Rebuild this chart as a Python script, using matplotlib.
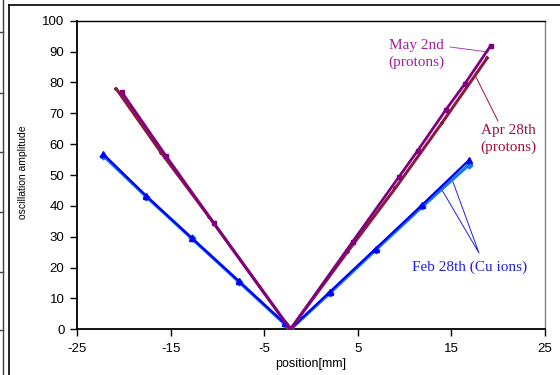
import matplotlib
matplotlib.use("Agg")
import matplotlib.pyplot as plt
from matplotlib.lines import Line2D

# Data
apr_x = [-20.8, -16.0, -10.9, -2.2, 3.9, 9.0, 14.0, 18.8]
apr_y = [77.9, 57.2, 36.5, 0.0, 25.1, 45.7, 66.9, 87.8]

may_x = [-20.2, -15.5, -10.4, -2.2, 4.45, 9.4, 11.4, 14.4, 16.4, 19.2]
may_y = [76.8, 56.2, 34.5, 0.0, 28.4, 49.4, 57.9, 71.1, 79.4, 91.9]

feb_x = [-22.2, -17.6, -12.75, -7.7, -2.8, -2.2, 2.0, 6.9, 11.9, 16.9]
feb_a_y = [56.8, 43.2, 29.6, 15.6, 1.9, 0.0, 12.1, 26.1, 40.4, 54.9]
feb_b_y = [56.3, 43.0, 29.5, 15.4, 1.7, 0.0, 11.7, 25.7, 39.8, 53.4]

xticks = [-25, -15, -5, 5, 15, 25]
yticks = [0, 10, 20, 30, 40, 50, 60, 70, 80, 90, 100]

c_may = "#800080"
c_apr = "#8B1A3C"
c_feb_a = "#0000FF"
c_feb_b = "#1E78E6"

plt.rcParams['font.family'] = ['Liberation Sans', 'DejaVu Sans']
plt.rcParams['axes.unicode_minus'] = False

fig = plt.figure(figsize=(5.6, 3.75), dpi=100)
ax = fig.add_axes([77/560, 1 - 329.3/375, (545-77)/560, (329.3-20.7)/375])

ax.plot(feb_x, feb_b_y, color=c_feb_b, lw=2.4, marker='D', ms=3.5, zorder=3)
ax.plot(feb_x, feb_a_y, color=c_feb_a, lw=1.6, marker='^', ms=4, zorder=4)
ax.plot(apr_x, apr_y, color=c_apr, lw=2.2, marker='+', ms=3.5, mew=1.3, zorder=5)
ax.plot(may_x, may_y, color=c_may, lw=2.0, marker='s', ms=3.5, zorder=6)

ax.set_xlim(-25, 25)
ax.set_ylim(0, 100)
ax.set_xticks(xticks)
ax.set_yticks(yticks)
ax.tick_params(axis='both', direction='out', length=5, width=1, labelsize=9.5, colors='black')
ax.tick_params(axis='x', pad=5)
ax.tick_params(axis='y', pad=4)
for s in ['left', 'bottom']:
    ax.spines[s].set_linewidth(1.3)
ax.spines['top'].set_linewidth(1.0)
ax.spines['right'].set_color('#808080')
ax.spines['right'].set_linewidth(1.0)

ax.set_xlabel("position[mm]", fontsize=9, labelpad=2)
fig.text(23/560, 1 - 172/375, "oscillation amplitude", rotation=90, fontsize=7.5,
         ha='center', va='center')

serif = ['Liberation Serif', 'DejaVu Serif']

def dx(px):
    return -25 + (px - 77) / 9.36

def dy(py):
    return (329.3 - py) / 3.086

ax.text(dx(416), dy(54), "May 2nd\n(protons)", color="#A020A0", fontsize=11, family=serif,
        ha='center', va='center', linespacing=1.35)
ax.plot([dx(450), dx(488)], [dy(47), dy(52)], color="#B040B0", lw=0.7)

ax.text(dx(508), dy(139), "Apr 28th\n(protons)", color="#A0103A", fontsize=11, family=serif,
        ha='center', va='center', linespacing=1.35)
ax.plot([dx(498), dx(476)], [dy(121), dy(77)], color="#A0103A", lw=0.7)

ax.text(dx(470), dy(267), "Feb 28th (Cu ions)", color="#2020E0", fontsize=11, family=serif,
        ha='center', va='center')
ax.plot([dx(442), dx(479), dx(453)], [dy(190), dy(253), dy(182)], color="#2020E0", lw=0.7)

# outer frame lines (from surrounding page)
fig.add_artist(Line2D([9/560, 9/560], [0, 1 - 4.5/375], transform=fig.transFigure, color='black', lw=1.2))
fig.add_artist(Line2D([9/560, 1], [1 - 4.5/375, 1 - 4.5/375], transform=fig.transFigure, color='black', lw=1.2))
fig.add_artist(Line2D([2.7/560, 2.7/560], [0, 1], transform=fig.transFigure, color='#404040', lw=1.0))
for ty in [32, 93, 152, 212, 272, 330]:
    fig.add_artist(Line2D([0, 2.7/560], [1 - ty/375, 1 - ty/375], transform=fig.transFigure, color='#404040', lw=1.0))

fig.savefig("out.png", dpi=100)
